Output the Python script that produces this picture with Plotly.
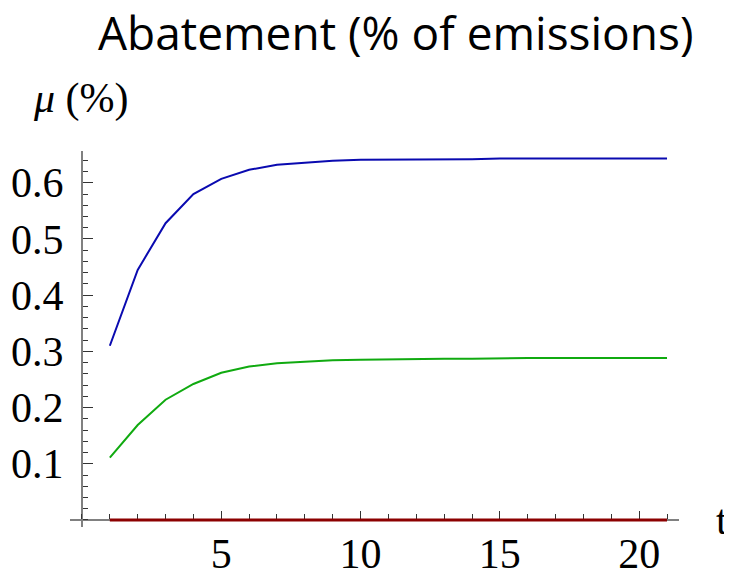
import plotly.graph_objects as go

t = list(range(1, 22))
mu_blue = [0.310, 0.445, 0.528, 0.580, 0.607, 0.623, 0.632, 0.636, 0.639, 0.641,
           0.641, 0.642, 0.642, 0.642, 0.643, 0.643, 0.643, 0.643, 0.643, 0.643, 0.643]
mu_green = [0.111, 0.169, 0.214, 0.242, 0.262, 0.273, 0.279, 0.282, 0.284, 0.285,
            0.286, 0.287, 0.287, 0.287, 0.288, 0.288, 0.288, 0.288, 0.288, 0.288, 0.288]
mu_red = [0.0] * 21

x_ticks = [5, 10, 15, 20]
y_ticks = [0.1, 0.2, 0.3, 0.4, 0.5, 0.6]
y_tick_text = ["0.1", "0.2", "0.3", "0.4", "0.5", "0.6"]

title_text = "Abatement (% of emissions)"
y_label = "<i>μ</i> (%)"
x_label = "t"

XR = [-0.43, 21.43]
YR = [-0.0125, 0.6565]

W, H = 732, 577
OFF = 8  # page body margin offset
ML, MR, MT, MB = 70 - OFF, 53 + OFF, 151 - OFF, 50 + OFF
PW, PH = W - ML - MR, H - MT - MB


def px_x(px):
    return (px - OFF - ML) / PW


def px_y(py):
    return (H - MB - (py - OFF)) / PH


fig = go.Figure()
fig.add_trace(go.Scatter(x=t, y=mu_blue, mode="lines",
                         line=dict(color="#0a0ab0", width=2), showlegend=False))
fig.add_trace(go.Scatter(x=t, y=mu_green, mode="lines",
                         line=dict(color="#10aa10", width=2), showlegend=False))
fig.add_trace(go.Scatter(x=t, y=mu_red, mode="lines",
                         line=dict(color="#8c0000", width=3), showlegend=False, cliponaxis=False))

serif = "Liberation Serif"
xpos = (0 - YR[0]) / (YR[1] - YR[0])
ypos = (0 - XR[0]) / (XR[1] - XR[0])

fig.update_layout(
    width=W, height=H,
    margin=dict(l=ML, r=MR, t=MT, b=MB, autoexpand=False),
    paper_bgcolor="white", plot_bgcolor="white",
    xaxis=dict(range=XR, anchor="free", position=xpos, showgrid=False, zeroline=False,
               automargin=False,
               showline=True, linecolor="#808080", linewidth=2,
               tickvals=x_ticks, ticks="inside", ticklen=8, tickwidth=1, tickcolor="#333333",
               tickfont=dict(family=serif, size=42, color="black"),
               ticklabelstandoff=-3,
               minor=dict(dtick=1, tick0=0, ticks="inside", ticklen=5, tickwidth=1, tickcolor="#333333"),
               layer="below traces"),
    yaxis=dict(range=YR, anchor="free", position=ypos, showgrid=False, zeroline=False,
               automargin=False,
               showline=True, linecolor="#808080", linewidth=2,
               tickvals=y_ticks, ticktext=y_tick_text, ticks="inside", ticklen=10, tickwidth=1,
               tickcolor="#333333",
               tickfont=dict(family=serif, size=42, color="black"),
               ticklabelstandoff=9,
               minor=dict(dtick=0.02, tick0=0, ticks="inside", ticklen=5, tickwidth=1, tickcolor="#333333"),
               layer="below traces"),
    annotations=[
        dict(text=title_text, xref="paper", yref="paper",
             x=px_x(395.5), y=px_y(32),
             xanchor="center", yanchor="middle", showarrow=False,
             font=dict(family="Open Sans", size=46, color="black")),
        dict(text=y_label, xref="paper", yref="paper",
             x=px_x(80.5), y=px_y(99),
             xanchor="center", yanchor="middle", showarrow=False,
             font=dict(family=serif, size=42, color="black")),
        dict(text=x_label, xref="paper", yref="paper",
             x=px_x(722), y=px_y(520),
             xanchor="center", yanchor="middle", showarrow=False,
             font=dict(family=serif, size=42, color="black")),
    ],
)

fig.write_html("out.html")
